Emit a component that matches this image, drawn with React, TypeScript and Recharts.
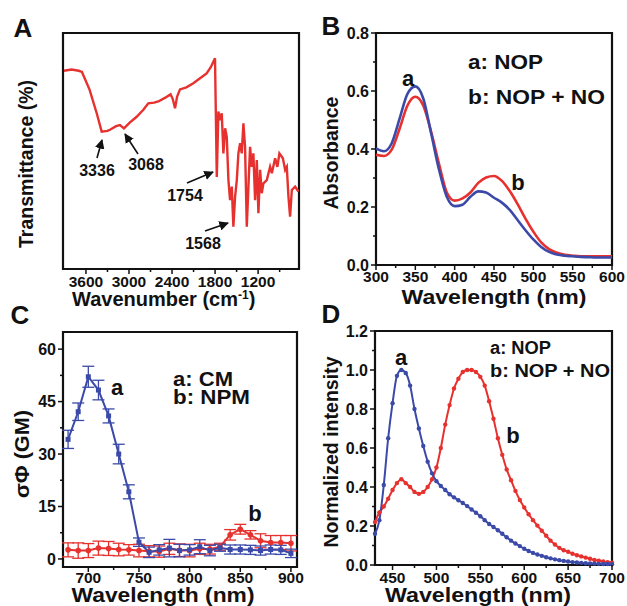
import { LineChart, Line, XAxis, YAxis, ReferenceArea, ErrorBar } from "recharts";

const FONT = '"Liberation Sans", Arial, Helvetica, sans-serif';
const RED = "#e6312e";
const BLUE = "#3b4aa8";
const INK = "#111";

// A: FT-IR spectrum
const irWavenumber = [
  3907, 3800, 3700, 3656, 3550, 3450, 3381, 3300, 3265, 3180, 3126, 3070, 2990, 2893, 2800, 2731, 2650,
  2591, 2500, 2420, 2390, 2358, 2330, 2289, 2200, 2103, 2000, 1918, 1860, 1801, 1776, 1754, 1730, 1707,
  1684, 1660, 1637, 1614, 1591, 1567, 1545, 1521, 1497, 1475, 1451, 1428, 1405, 1382, 1358, 1335, 1312,
  1288, 1266, 1242, 1218, 1196, 1172, 1149, 1126, 1079, 1033, 1009, 963, 931, 903, 855, 823, 800, 777,
  754, 730, 684, 638,
];
const irTransmittance = [
  84, 84.5, 84, 83.5, 76, 66, 58.2, 58.5, 59, 60.5, 61, 59.6, 62, 64.5, 67.5, 70.2, 70.5,
  71, 72.5, 74, 72, 68.1, 73, 76.1, 77, 78.7, 81, 82.9, 85.5, 89.3, 39, 66.7, 63, 66,
  49, 59.6, 56, 37.7, 29.2, 34.9, 17.9, 30.6, 37.7, 49, 53.3, 49, 61.7, 51.8, 17.9, 34.9, 51.8,
  43.3, 49, 29.2, 46.2, 23.6, 42, 32.1, 36.3, 37.7, 43.3, 40.6, 46.9, 43.3, 49, 46.9, 42, 43.3, 30.6,
  22.2, 33.5, 34.9, 32.8,
];
const irTicks = [3600, 3000, 2400, 1800, 1200];
const irMinor = [3300, 2700, 2100, 1500, 900];

// B: UV-vis absorbance
const absWavelength = [
  300, 310, 320, 330, 340, 350, 360, 370, 380, 390, 400, 410, 420, 430, 440, 450, 460, 470, 480, 490,
  500, 510, 520, 530, 540, 550, 560, 570, 580, 590, 600,
];
const absNOP = [
  0.402, 0.392, 0.42, 0.505, 0.59, 0.616, 0.575, 0.455, 0.33, 0.235, 0.203, 0.208, 0.235, 0.254, 0.25,
  0.232, 0.215, 0.19, 0.155, 0.12, 0.088, 0.062, 0.045, 0.036, 0.032, 0.03, 0.028, 0.027, 0.026, 0.026, 0.026,
];
const absNOPNO = [
  0.38, 0.376, 0.398, 0.47, 0.55, 0.58, 0.55, 0.46, 0.35, 0.25, 0.222, 0.23, 0.25, 0.283, 0.302, 0.307,
  0.29, 0.255, 0.21, 0.16, 0.115, 0.078, 0.055, 0.042, 0.035, 0.032, 0.03, 0.03, 0.03, 0.03, 0.03,
];
const absXTicks = [300, 350, 400, 450, 500, 550, 600];
const absXMinor = [325, 375, 425, 475, 525, 575];
const absYTicks = [0, 0.2, 0.4, 0.6, 0.8];
const absYMinor = [0.1, 0.3, 0.5, 0.7];

// C: two-photon action cross section
const tpWavelength = [
  680, 690, 700, 710, 720, 730, 740, 750, 760, 770, 780, 790, 800, 810, 820, 830, 840, 850, 860, 870, 880, 890, 900,
];
const tpCM = [34.2, 42.1, 52.1, 48.3, 40.9, 30, 19.2, 4.8, 1.9, 2.6, 3.1, 2.4, 2.6, 3.5, 2.4, 3.2, 2.7, 2.7, 2.6, 2.4, 2.7, 2.6, 1.6];
const tpCMErr = [2.6, 2.5, 3, 2.8, 2, 2.8, 2, 1.2, 1.5, 1.5, 2.5, 1.8, 1.5, 2, 1.5, 1, 1.3, 1.3, 1.3, 1.3, 1.3, 1.3, 1.2];
const tpNPM = [2.6, 2.4, 2.4, 3.1, 3, 2.7, 2.6, 2.4, 2.2, 2.1, 2.9, 2.5, 2.4, 2.9, 2.8, 3.5, 6.9, 8.5, 6.9, 5.2, 4.7, 4.7, 4.5];
const tpNPMErr = [2, 2.2, 2, 2, 2, 1.8, 1.5, 1.8, 1.6, 1.6, 1.6, 1.8, 1.8, 1.6, 1.4, 1, 1.5, 1.4, 1.2, 2, 2, 2, 2.2];
const tpXTicks = [700, 750, 800, 850, 900];
const tpXMinor = [725, 775, 825, 875];
const tpYTicks = [0, 15, 30, 45, 60];
const tpYMinor = [7.5, 22.5, 37.5, 52.5];

// D: normalized fluorescence
const flWavelength = [
  430, 435, 440, 445, 450, 455, 460, 465, 470, 475, 480, 485, 490, 495, 500, 505, 510, 515, 520, 525,
  530, 535, 540, 545, 550, 555, 560, 565, 570, 575, 580, 585, 590, 595, 600, 605, 610, 615, 620, 625,
  630, 635, 640, 645, 650, 655, 660, 665, 670, 675, 680, 685, 690, 695, 700,
];
const flNOP = [
  0.16, 0.23, 0.41, 0.65, 0.83, 0.97, 1.0, 0.985, 0.92, 0.8, 0.7, 0.61, 0.53, 0.47, 0.43, 0.405, 0.385,
  0.363, 0.347, 0.332, 0.318, 0.302, 0.285, 0.268, 0.25, 0.23, 0.21, 0.195, 0.178, 0.16, 0.142, 0.125,
  0.11, 0.097, 0.083, 0.072, 0.062, 0.054, 0.047, 0.04, 0.034, 0.029, 0.025, 0.021, 0.018, 0.015, 0.013,
  0.011, 0.009, 0.008, 0.007, 0.006, 0.005, 0.005, 0.004,
];
const flNOPNO = [
  0.22, 0.27, 0.3, 0.34, 0.385, 0.42, 0.44, 0.42, 0.4, 0.375, 0.365, 0.375, 0.4, 0.44, 0.5, 0.6, 0.72,
  0.82, 0.905, 0.955, 0.99, 1.0, 1.0, 0.99, 0.965, 0.92, 0.84, 0.75, 0.65, 0.565, 0.49, 0.435, 0.38,
  0.333, 0.295, 0.26, 0.23, 0.202, 0.176, 0.15, 0.125, 0.105, 0.088, 0.076, 0.068, 0.058, 0.05, 0.044,
  0.038, 0.032, 0.026, 0.022, 0.018, 0.015, 0.012,
];
const flXTicks = [450, 500, 550, 600, 650, 700];
const flXMinor = [475, 525, 575, 625, 675];
const flYTicks = [0, 0.2, 0.4, 0.6, 0.8, 1.0, 1.2];
const flYMinor = [0.1, 0.3, 0.5, 0.7, 0.9, 1.1];

const irData = irWavenumber.map((w, i) => ({ w, t: irTransmittance[i] }));
const absData = absWavelength.map((w, i) => ({ w, a: absNOP[i], b: absNOPNO[i] }));
const tpData = tpWavelength.map((w, i) => ({ w, a: tpCM[i], aErr: tpCMErr[i], b: tpNPM[i], bErr: tpNPMErr[i] }));
const flData = flWavelength.map((w, i) => ({ w, a: flNOP[i], b: flNOPNO[i] }));

const near = (list: number[], v: number) => list.some((t) => Math.abs(t - v) < 1e-6);

// tick marks + labels drawn by hand so that minor ticks can be shorter and unlabeled
function bottomTick(majors: number[], fmt: (v: number) => string, gap: number) {
  return (props: any) => {
    const { x, y, payload } = props;
    const major = near(majors, payload.value);
    return (
      <g key={`xt-${payload.value}`}>
        <line x1={x} y1={y} x2={x} y2={y + (major ? 5 : 3)} stroke={INK} strokeWidth={1.5} />
        {major && (
          <text x={x} y={y + gap} dy="0.36em" textAnchor="middle" fontSize={15.5} fontWeight="bold" fill={INK}>
            {fmt(payload.value)}
          </text>
        )}
      </g>
    );
  };
}

function leftTick(majors: number[], fmt: (v: number) => string) {
  return (props: any) => {
    const { x, y, payload } = props;
    const major = near(majors, payload.value);
    return (
      <g key={`yt-${payload.value}`}>
        <line x1={x - (major ? 5 : 3)} y1={y} x2={x} y2={y} stroke={INK} strokeWidth={1.5} />
        {major && (
          <text x={x - 7} y={y} dy="0.36em" textAnchor="end" fontSize={16} fontWeight="bold" fill={INK}>
            {fmt(payload.value)}
          </text>
        )}
      </g>
    );
  };
}

const int = (v: number) => String(v);
const one = (v: number) => v.toFixed(1);

const frame = { fill: "none", stroke: INK, strokeWidth: 2.2, fillOpacity: 0 };

const square = (color: string) => (p: any) => (
  <rect key={`sq-${p.index}`} x={p.cx - 2.5} y={p.cy - 2.5} width={5} height={5} fill={color} />
);
const round = (color: string) => (p: any) => (
  <circle key={`ci-${p.index}`} cx={p.cx} cy={p.cy} r={2.8} fill={color} />
);

function PanelA() {
  return (
    <LineChart width={313} height={300} data={irData} margin={{ top: 33, left: 63, right: 14, bottom: 0 }}>
      <XAxis
        type="number"
        dataKey="w"
        domain={[630, 3920]}
        reversed
        allowDataOverflow
        ticks={[...irTicks, ...irMinor]}
        interval={0}
        height={31}
        tickSize={0}
        tickMargin={0}
        axisLine={false}
        tick={bottomTick(irTicks, int, 12)}
      />
      <YAxis hide type="number" domain={[0, 100]} />
      <Line type="linear" dataKey="t" stroke={RED} strokeWidth={2.4} dot={false} isAnimationActive={false} />
      <ReferenceArea x1={630} x2={3920} y1={0} y2={100} {...frame} />
    </LineChart>
  );
}

function PanelB() {
  return (
    <LineChart width={314} height={300} data={absData} margin={{ top: 33, left: 0, right: 15, bottom: 0 }}>
      <XAxis
        type="number"
        dataKey="w"
        domain={[300, 600]}
        ticks={[...absXTicks, ...absXMinor]}
        interval={0}
        height={35}
        tickSize={0}
        tickMargin={0}
        axisLine={false}
        tick={bottomTick(absXTicks, int, 11)}
      />
      <YAxis
        type="number"
        domain={[0, 0.8]}
        ticks={[...absYTicks, ...absYMinor]}
        interval={0}
        width={63}
        tickSize={0}
        tickMargin={0}
        axisLine={false}
        tick={leftTick(absYTicks, one)}
      />
      <Line type="monotone" dataKey="b" stroke={RED} strokeWidth={2.6} dot={false} isAnimationActive={false} />
      <Line type="monotone" dataKey="a" stroke={BLUE} strokeWidth={2.6} dot={false} isAnimationActive={false} />
      <ReferenceArea x1={300} x2={600} y1={0} y2={0.8} {...frame} />
    </LineChart>
  );
}

function PanelC() {
  return (
    <LineChart width={313} height={306} data={tpData} margin={{ top: 32, left: 0, right: 16, bottom: 0 }}>
      <XAxis
        type="number"
        dataKey="w"
        domain={[675, 906]}
        ticks={[...tpXTicks, ...tpXMinor]}
        interval={0}
        height={39}
        tickSize={0}
        tickMargin={0}
        axisLine={false}
        tick={bottomTick(tpXTicks, int, 10)}
      />
      <YAxis
        type="number"
        domain={[-2.3, 64.9]}
        allowDataOverflow
        ticks={[...tpYTicks, ...tpYMinor]}
        interval={0}
        width={63}
        tickSize={0}
        tickMargin={0}
        axisLine={false}
        tick={leftTick(tpYTicks, int)}
      />
      <Line type="linear" dataKey="b" stroke={RED} strokeWidth={2} dot={round(RED)} isAnimationActive={false}>
        <ErrorBar dataKey="bErr" width={6} stroke={RED} strokeWidth={1.3} direction="y" />
      </Line>
      <Line type="linear" dataKey="a" stroke={BLUE} strokeWidth={2} dot={square(BLUE)} isAnimationActive={false}>
        <ErrorBar dataKey="aErr" width={6} stroke={BLUE} strokeWidth={1.3} direction="y" />
      </Line>
      <ReferenceArea x1={675} x2={906} y1={-2.3} y2={64.9} {...frame} />
    </LineChart>
  );
}

function PanelD() {
  return (
    <LineChart width={314} height={306} data={flData} margin={{ top: 31, left: 0, right: 15, bottom: 0 }}>
      <XAxis
        type="number"
        dataKey="w"
        domain={[430, 700]}
        ticks={[...flXTicks, ...flXMinor]}
        interval={0}
        height={41}
        tickSize={0}
        tickMargin={0}
        axisLine={false}
        tick={bottomTick(flXTicks, int, 12)}
      />
      <YAxis
        type="number"
        domain={[0, 1.2]}
        ticks={[...flYTicks, ...flYMinor]}
        interval={0}
        width={62}
        tickSize={0}
        tickMargin={0}
        axisLine={false}
        tick={leftTick(flYTicks, one)}
      />
      <Line type="monotone" dataKey="b" stroke={RED} strokeWidth={2} dot={{ r: 2.2, fill: RED, strokeWidth: 0 }} isAnimationActive={false} />
      <Line type="monotone" dataKey="a" stroke={BLUE} strokeWidth={2} dot={{ r: 2.2, fill: BLUE, strokeWidth: 0 }} isAnimationActive={false} />
      <ReferenceArea x1={430} x2={700} y1={0} y2={1.2} {...frame} />
    </LineChart>
  );
}

function T(props: { x: number; y: number; size: number; len?: number; anchor?: string; rot?: boolean; children: any }) {
  const { x, y, size, len, anchor = "middle", rot, children } = props;
  return (
    <text
      x={x}
      y={y}
      dy="0.36em"
      fontSize={size}
      fontWeight="bold"
      fill={INK}
      textAnchor={anchor as any}
      textLength={len}
      lengthAdjust={len ? "spacingAndGlyphs" : undefined}
      transform={rot ? `rotate(-90 ${x} ${y})` : undefined}
    >
      {children}
    </text>
  );
}

function Arrow({ x1, y1, x2, y2 }: { x1: number; y1: number; x2: number; y2: number }) {
  return <line x1={x1} y1={y1} x2={x2} y2={y2} stroke={INK} strokeWidth={1.6} markerEnd="url(#head)" />;
}

export default function App() {
  return (
    <div
      style={{
        position: "absolute",
        left: 0,
        top: 0,
        width: 627,
        height: 606,
        background: "#fff",
        fontFamily: FONT,
        overflow: "hidden",
      }}
    >
      <div style={{ position: "absolute", left: 0, top: 0 }}>
        <PanelA />
      </div>
      <div style={{ position: "absolute", left: 313, top: 0 }}>
        <PanelB />
      </div>
      <div style={{ position: "absolute", left: 0, top: 300 }}>
        <PanelC />
      </div>
      <div style={{ position: "absolute", left: 313, top: 300 }}>
        <PanelD />
      </div>
      <svg width={627} height={606} style={{ position: "absolute", left: 0, top: 0, pointerEvents: "none" }}>
        <defs>
          <marker id="head" viewBox="0 0 10 10" refX="9" refY="5" markerWidth="6" markerHeight="6" orient="auto-start-reverse">
            <path d="M0,0 L10,5 L0,10 z" fill={INK} />
          </marker>
        </defs>
        {/* panel letters */}
        <T x={23} y={28} size={26}>A</T>
        <T x={331} y={26} size={26}>B</T>
        <T x={20} y={315} size={26}>C</T>
        <T x={331} y={314} size={26}>D</T>

        {/* A */}
        <T x={26} y={164} size={20} len={168} rot>Transmittance (%)</T>
        <text x={72} y={298.5} dy="0.36em" fontSize={20} fontWeight="bold" fill={INK}>
          Wavenumber (cm<tspan dy={-7} fontSize={12}>-1</tspan>
          <tspan dy={7}>)</tspan>
        </text>
        <T x={97} y={170} size={16}>3336</T>
        <T x={146} y={164} size={16}>3068</T>
        <T x={185} y={195} size={16}>1754</T>
        <T x={203} y={243} size={16}>1568</T>
        <Arrow x1={97} y1={158} x2={102} y2={140} />
        <Arrow x1={138} y1={154} x2={125} y2={134} />
        <Arrow x1={187} y1={183} x2={213} y2={172} />
        <Arrow x1={205} y1={231} x2={228} y2={223} />

        {/* B */}
        <T x={331} y={153} size={20} len={113} rot>Absorbance</T>
        <T x={494} y={297} size={20.5} len={185}>Wavelength (nm)</T>
        <T x={468} y={62} size={20} len={75} anchor="start">a: NOP</T>
        <T x={468} y={97} size={20} len={137} anchor="start">b: NOP + NO</T>
        <T x={408} y={78} size={22}>a</T>
        <T x={518} y={182} size={22}>b</T>

        {/* C */}
        <T x={22} y={454} size={20} len={88} rot>σΦ (GM)</T>
        <T x={163} y={595} size={20} len={183}>Wavelength (nm)</T>
        <T x={173} y={379} size={20} len={60} anchor="start">a: CM</T>
        <T x={173} y={397} size={20} len={77} anchor="start">b: NPM</T>
        <T x={117} y={387} size={22}>a</T>
        <T x={255} y={513} size={22}>b</T>

        {/* D */}
        <T x={331} y={452} size={20} len={191} rot>Normalized intensity</T>
        <T x={478} y={595} size={20} len={186}>Wavelength (nm)</T>
        <T x={490} y={348} size={18} len={61} anchor="start">a: NOP</T>
        <T x={490} y={371} size={18} len={120} anchor="start">b: NOP + NO</T>
        <T x={401} y={357} size={22}>a</T>
        <T x={513} y={435} size={22}>b</T>
      </svg>
    </div>
  );
}
